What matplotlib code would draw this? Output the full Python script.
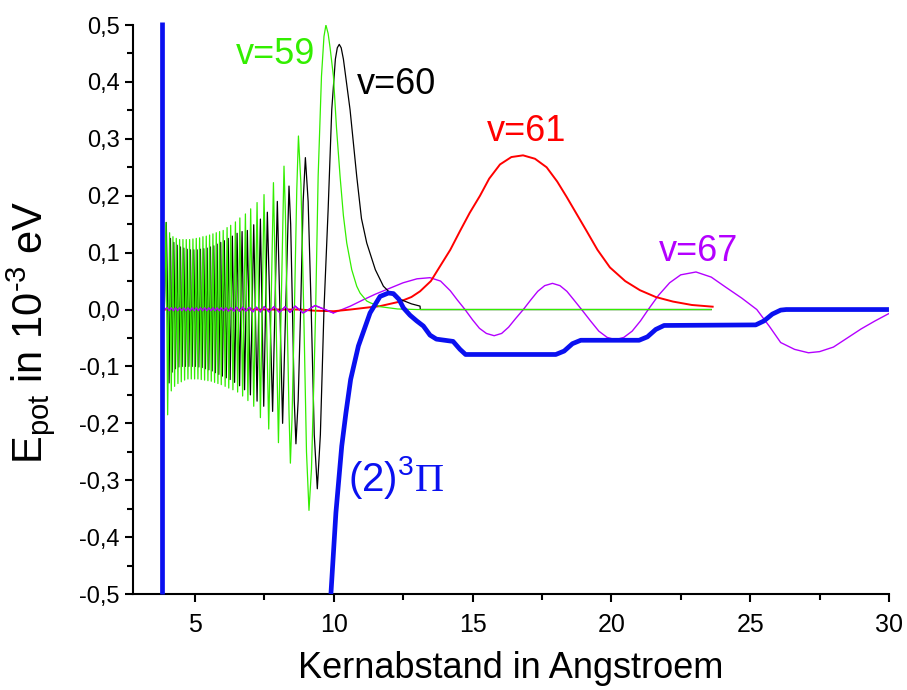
import numpy as np
import matplotlib
matplotlib.use("Agg")
import matplotlib.pyplot as plt
from matplotlib.ticker import MultipleLocator, FuncFormatter

plt.rcParams["font.family"] = ["Liberation Sans", "DejaVu Sans"]
plt.rcParams["mathtext.fontset"] = "custom"
plt.rcParams["mathtext.rm"] = "Liberation Sans"
plt.rcParams["mathtext.it"] = "Liberation Sans:italic"
plt.rcParams["mathtext.sf"] = "Liberation Serif"

# v=59 (green): extrema of the dense oscillation, then extra points on the big lobes
v59_peak_x = [3.96, 4.09, 4.21, 4.33, 4.45, 4.57, 4.69, 4.81, 4.93, 5.05, 5.17, 5.29, 5.41, 5.53,
              5.65, 5.77, 5.89, 6.02, 6.16, 6.29, 6.46, 6.62, 6.82, 7.01, 7.24, 7.49, 7.83, 8.21,
              8.73, 9.72]
v59_peak_y = [0.153, 0.135, 0.128, 0.125, 0.123, 0.123, 0.123, 0.123, 0.124, 0.125, 0.126, 0.128,
              0.129, 0.131, 0.133, 0.135, 0.137, 0.139, 0.144, 0.148, 0.154, 0.161, 0.168, 0.177,
              0.188, 0.202, 0.223, 0.252, 0.305, 0.5]
v59_trough_x = [4.02, 4.15, 4.27, 4.39, 4.51, 4.63, 4.75, 4.87, 4.99, 5.11, 5.23, 5.35, 5.47, 5.59,
                5.71, 5.83, 5.95, 6.09, 6.22, 6.37, 6.54, 6.72, 6.91, 7.12, 7.36, 7.66, 8.01, 8.44,
                9.11]
v59_trough_y = [-0.185, -0.143, -0.135, -0.13, -0.127, -0.124, -0.122, -0.122, -0.122, -0.122,
                -0.123, -0.124, -0.125, -0.126, -0.128, -0.13, -0.132, -0.135, -0.138, -0.141,
                -0.145, -0.152, -0.16, -0.17, -0.19, -0.21, -0.234, -0.27, -0.353]
v59_shape_x = [3.90, 8.26, 8.32, 8.39, 8.50, 8.585, 8.67, 8.82, 8.92, 9.02, 9.20, 9.30, 9.35, 9.44,
               9.56, 9.65, 9.80, 9.87, 9.99, 10.10, 10.23, 10.35, 10.47, 10.65, 10.83, 10.95, 11.19,
               11.31, 11.67, 12.30, 13.00, 23.60]
v59_shape_y = [0.0, 0.17, 0.0, -0.18, -0.19, 0.0, 0.21, 0.22, 0.0, -0.25, -0.28, -0.10, 0.0, 0.234,
               0.41, 0.48, 0.485, 0.46, 0.41, 0.32, 0.234, 0.165, 0.117, 0.07, 0.041, 0.029, 0.015,
               0.012, 0.005, 0.001, 0.0, 0.0]

# v=60 (black)
v60_peak_x = [3.97, 4.12, 4.24, 4.36, 4.48, 4.60, 4.72, 4.84, 4.96, 5.08, 5.20, 5.32, 5.44, 5.56,
              5.68, 5.80, 5.93, 6.06, 6.20, 6.35, 6.52, 6.70, 6.89, 7.12, 7.36, 7.61, 7.97, 8.39,
              8.98, 10.20]
v60_peak_y = [0.153, 0.125, 0.118, 0.113, 0.11, 0.108, 0.106, 0.105, 0.105, 0.105, 0.106, 0.107,
              0.108, 0.11, 0.112, 0.115, 0.118, 0.121, 0.125, 0.129, 0.134, 0.137, 0.139, 0.149,
              0.159, 0.171, 0.19, 0.217, 0.267, 0.466]
v60_trough_x = [4.07, 4.18, 4.30, 4.42, 4.54, 4.66, 4.78, 4.90, 5.02, 5.14, 5.26, 5.38, 5.50, 5.62,
                5.74, 5.86, 5.99, 6.13, 6.27, 6.43, 6.61, 6.79, 7.00, 7.24, 7.48, 7.80, 8.16, 8.64,
                9.41]
v60_trough_y = [-0.129, -0.11, -0.104, -0.101, -0.1, -0.1, -0.1, -0.1, -0.1, -0.101, -0.102,
                -0.104, -0.106, -0.108, -0.111, -0.114, -0.117, -0.12, -0.123, -0.128, -0.134,
                -0.141, -0.15, -0.161, -0.17, -0.179, -0.2, -0.236, -0.315]
v60_shape_x = [3.90, 8.45, 8.515, 8.58, 8.72, 8.81, 8.90, 9.08, 9.19, 9.30, 9.52, 9.65, 9.80, 9.93,
               10.06, 10.13, 10.27, 10.35, 10.59, 10.83, 11.00, 11.19, 11.50, 11.79, 12.10, 12.39,
               12.80, 13.11, 13.12, 23.60]
v60_shape_y = [0.0, 0.15, 0.0, -0.16, -0.16, 0.0, 0.19, 0.19, 0.0, -0.22, -0.22, 0.0, 0.176, 0.351,
               0.44, 0.46, 0.46, 0.44, 0.351, 0.234, 0.16, 0.117, 0.07, 0.041, 0.026, 0.018, 0.01,
               0.006, 0.0, 0.0]

# v=61 (red)
v61_x = [3.90, 8.8, 9.3, 10.0, 10.6, 11.3, 11.67, 12.39, 12.8, 13.11, 13.5, 13.83, 14.2, 14.55,
         14.9, 15.27, 15.6, 15.99, 16.4, 16.82, 17.25, 17.67, 18.05, 18.39, 18.75, 19.11, 19.5,
         19.95, 20.5, 21.03, 21.6, 22.22, 22.9, 23.65]
v61_y = [0.0, 0.0, -0.002, -0.003, 0.0, 0.004, 0.006, 0.014, 0.022, 0.032, 0.05, 0.076, 0.105,
         0.138, 0.17, 0.2, 0.23, 0.255, 0.268, 0.271, 0.265, 0.25, 0.225, 0.198, 0.168, 0.138,
         0.105, 0.074, 0.05, 0.034, 0.022, 0.014, 0.008, 0.005]

# v=67 (purple)
v67_peak_x = [4.00, 4.15, 4.30, 4.45, 4.60, 4.75, 4.90, 5.05, 5.20, 5.35, 5.50, 5.65, 5.80, 5.95,
              6.12, 6.30, 6.50, 6.72, 6.96, 7.22, 7.50, 7.85, 8.25, 8.61, 9.33]
v67_peak_y = [0.003, 0.003, 0.003, 0.003, 0.003, 0.003, 0.003, 0.003, 0.003, 0.003, 0.003, 0.003,
              0.003, 0.003, 0.003, 0.003, 0.004, 0.004, 0.004, 0.004, 0.005, 0.005, 0.005, 0.006,
              0.007]
v67_trough_x = [4.08, 4.23, 4.38, 4.53, 4.68, 4.83, 4.98, 5.13, 5.28, 5.43, 5.58, 5.73, 5.88, 6.03,
                6.21, 6.40, 6.61, 6.84, 7.09, 7.36, 7.67, 8.05, 8.43, 8.90, 9.99]
v67_trough_y = [-0.002, -0.002, -0.002, -0.002, -0.002, -0.002, -0.002, -0.002, -0.002, -0.002,
                -0.002, -0.002, -0.002, -0.002, -0.003, -0.003, -0.003, -0.003, -0.004, -0.004,
                -0.004, -0.005, -0.005, -0.006, -0.006]
v67_shape_x = [3.90, 10.3, 10.6, 11.06, 11.5, 12.0, 12.5, 13.0, 13.47, 13.85, 14.2, 14.45, 14.73,
               15.0, 15.25, 15.5, 15.78, 16.05, 16.3, 16.55, 16.83, 17.1, 17.35, 17.6, 17.88, 18.15,
               18.4, 18.65, 18.93, 19.25, 19.55, 19.85, 20.15, 20.45, 20.75, 21.05, 21.33, 21.7,
               22.1, 22.5, 23.05, 23.6, 24.1, 24.7, 25.24, 25.7, 26.1, 26.6, 27.1, 27.5, 28.0, 28.5,
               29.0, 29.5, 30.0]
v67_shape_y = [0.0, 0.0, 0.006, 0.017, 0.027, 0.037, 0.047, 0.054, 0.056, 0.05, 0.033, 0.017, 0.0,
               -0.018, -0.033, -0.042, -0.046, -0.042, -0.031, -0.016, 0.0, 0.017, 0.032, 0.042,
               0.046, 0.042, 0.032, 0.017, 0.0, -0.02, -0.038, -0.049, -0.053, -0.049, -0.038,
               -0.02, 0.0, 0.025, 0.047, 0.061, 0.066, 0.057, 0.04, 0.02, 0.0, -0.03, -0.058, -0.07,
               -0.076, -0.074, -0.066, -0.05, -0.034, -0.02, -0.007]

# (2)3Pi potential (blue)
wall_x = [3.83, 3.83]
wall_y = [-0.5, 0.506]
pot_x = [9.90, 10.08, 10.29, 10.44, 10.61, 10.89, 11.31, 11.67, 11.97, 12.15, 12.35, 12.51, 12.75,
         12.99, 13.23, 13.47, 13.70, 14.0, 14.3, 14.55, 14.75, 18.0, 18.3, 18.6, 18.9, 21.0, 21.3,
         21.6, 21.9, 25.2, 25.5, 25.8, 26.1, 26.3, 30.0]
pot_y = [-0.5, -0.357, -0.24, -0.182, -0.123, -0.064, -0.006, 0.023, 0.029, 0.028, 0.018, 0.003,
         -0.01, -0.02, -0.029, -0.045, -0.052, -0.054, -0.056, -0.07, -0.079, -0.079, -0.073,
         -0.06, -0.054, -0.054, -0.048, -0.035, -0.028, -0.027, -0.02, -0.008, -0.001, 0.0, 0.0]


def merged(*pairs):
    xs = np.concatenate([np.asarray(p[0], float) for p in pairs])
    ys = np.concatenate([np.asarray(p[1], float) for p in pairs])
    order = np.argsort(xs, kind="stable")
    return xs[order], ys[order]


x59, y59 = merged((v59_peak_x, v59_peak_y), (v59_trough_x, v59_trough_y), (v59_shape_x, v59_shape_y))
x60, y60 = merged((v60_peak_x, v60_peak_y), (v60_trough_x, v60_trough_y), (v60_shape_x, v60_shape_y))
x67, y67 = merged((v67_peak_x, v67_peak_y), (v67_trough_x, v67_trough_y), (v67_shape_x, v67_shape_y))

fig = plt.figure(figsize=(9.07, 6.90), dpi=100)
ax = fig.add_axes([0.1466, 0.1391, 0.8335, 0.8246])

green = "#33ee00"
purple = "#b400ff"
blue = "#0a10f0"

ax.plot(x67, y67, color=purple, lw=1.0, zorder=2)
ax.plot(v61_x, v61_y, color="red", lw=1.4, zorder=2)
ax.plot(x60, y60, color="black", lw=0.9, zorder=3)
ax.plot(x59, y59, color=green, lw=0.9, zorder=3)
tail = x59 >= 13.1
ax.plot(x59[tail], y59[tail], color="#3d8f3d", lw=1.0, zorder=4)
ax.plot(x67[x67 < 10.3], y67[x67 < 10.3], color=purple, lw=1.0, zorder=4)
ax.plot(pot_x, pot_y, color=blue, lw=3.4, zorder=5, solid_capstyle="butt")
ax.plot(wall_x, wall_y, color=blue, lw=3.4, zorder=5, clip_on=False, solid_capstyle="butt")

ax.text(7.92, 0.448, "v=59", color=green, fontsize=26, ha="center", va="center")
ax.text(12.26, 0.395, "v=60", color="black", fontsize=26, ha="center", va="center")
ax.text(16.93, 0.313, "v=61", color="red", fontsize=26, ha="center", va="center")
ax.text(23.16, 0.102, "v=67", color=purple, fontsize=26, ha="center", va="center")
ax.text(12.24, -0.295, r"(2)$^{3}\mathsf{\Pi}$", color=blue, fontsize=29, ha="center", va="center")

ax.set_xlim(2.77, 30)
ax.set_ylim(-0.5, 0.5)
ax.spines["top"].set_visible(False)
ax.spines["right"].set_visible(False)
for s in ("left", "bottom"):
    ax.spines[s].set_linewidth(1.5)

ax.xaxis.set_major_locator(MultipleLocator(5))
ax.xaxis.set_minor_locator(MultipleLocator(2.5))
ax.yaxis.set_major_locator(MultipleLocator(0.1))
ax.yaxis.set_minor_locator(MultipleLocator(0.05))
ax.yaxis.set_major_formatter(FuncFormatter(lambda v, p: f"{v:.1f}".replace(".", ",").replace("-0,0", "0,0")))
ax.tick_params(which="major", direction="out", length=6, width=1.5, labelsize=17)
ax.tick_params(which="minor", direction="out", length=4, width=1.5)
ax.tick_params(axis="x", labelsize=18, pad=8)

ax.set_xlabel("Kernabstand in Angstroem", fontsize=26, labelpad=10)
ax.set_ylabel(r"E$_{\mathrm{pot}}$ in 10$^{\text{-3}}$ eV", fontsize=30)
ax.yaxis.set_label_coords(-0.1, 0.46)

fig.savefig("out.png", dpi=100)
